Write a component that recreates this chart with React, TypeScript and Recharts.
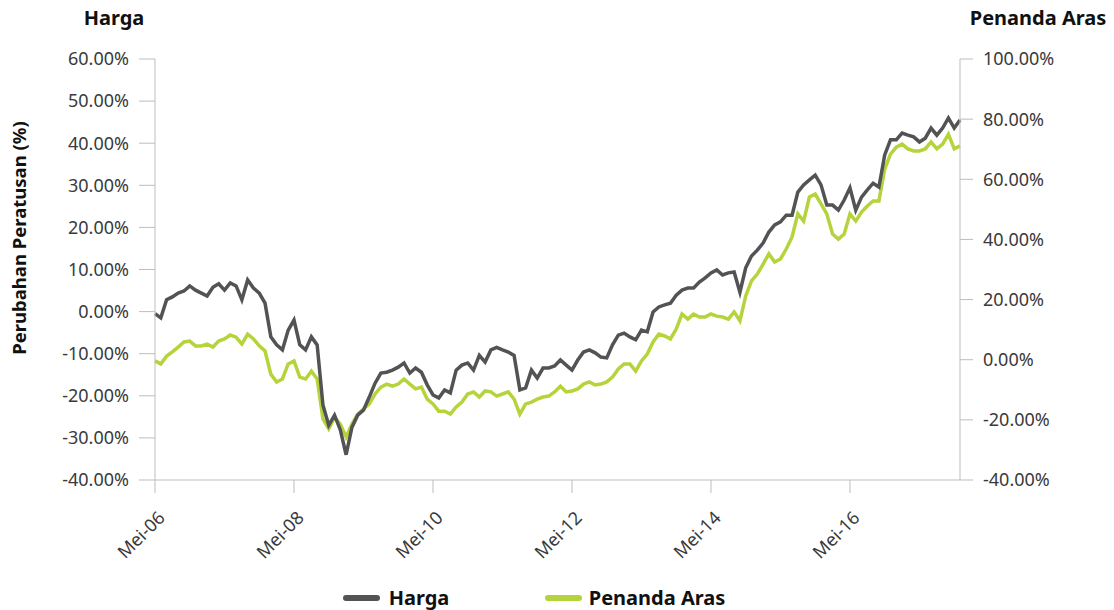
import React from 'react';
import { LineChart, Line, XAxis, YAxis } from 'recharts';

// Month index 0 = Mei-06 (May 2006), one value per month
const hargaValues = [
  -0.5, -1.5, 2.8, 3.5, 4.4, 4.9, 6.1, 5.1, 4.4, 3.7,
  5.8, 6.6, 5.1, 6.8, 6.1, 2.8, 7.5, 5.6, 4.4, 2.0,
  -6.0, -7.9, -9.1, -4.4, -2.0, -7.9, -9.1, -6.0, -7.9, -22.2,
  -27.0, -24.6, -28.1, -34.0, -27.5, -24.6, -23.4, -20.3, -17.0, -14.6,
  -14.4, -13.9, -13.2, -12.2, -14.6, -13.4, -14.4, -17.4, -19.8, -20.5,
  -18.6, -19.3, -13.9, -12.7, -12.2, -13.9, -10.4, -12.0, -9.1, -8.5,
  -9.1, -9.6, -10.4, -18.6, -18.1, -13.9, -15.8, -13.4, -13.4, -12.9,
  -11.5, -12.7, -13.9, -11.5, -9.6, -9.1, -9.8, -10.8, -11.0, -7.9,
  -5.6, -5.1, -6.0, -6.7, -4.4, -4.8, -0.1, 1.1, 1.6, 2.0,
  3.9, 5.1, 5.6, 5.6, 7.0, 8.0, 9.2, 9.9, 8.7, 9.2,
  9.4, 4.6, 10.4, 13.2, 14.6, 16.3, 18.9, 20.6, 21.3, 22.9,
  22.9, 28.4, 30.1, 31.3, 32.4, 30.1, 25.3, 25.3, 24.1, 26.5,
  29.4, 24.1, 27.2, 28.9, 30.5, 29.6, 37.2, 40.8, 40.8, 42.4,
  41.9, 41.5, 40.3, 41.2, 43.6, 41.9, 43.6, 46.0, 43.6, 45.5,
];

const penandaValues = [
  -0.4, -1.4, 1.2, 2.6, 4.2, 5.9, 6.2, 4.6, 4.6, 5.2,
  4.2, 6.2, 6.9, 8.2, 7.5, 5.2, 8.5, 6.9, 4.6, 2.9,
  -4.8, -7.4, -6.4, -1.4, -0.4, -5.8, -6.4, -3.8, -6.4, -19.7,
  -23.0, -19.1, -21.4, -25.7, -21.4, -18.1, -16.4, -14.7, -11.4, -9.1,
  -8.1, -8.8, -8.1, -6.4, -8.1, -9.7, -9.1, -13.1, -14.7, -17.1,
  -17.1, -18.1, -15.7, -14.1, -11.4, -10.7, -12.4, -10.4, -10.7, -12.1,
  -11.4, -10.7, -13.1, -18.1, -14.7, -14.1, -13.1, -12.4, -12.1, -10.7,
  -8.8, -10.7, -10.4, -9.7, -8.1, -7.4, -8.4, -8.1, -7.4, -5.8,
  -3.1, -1.4, -1.4, -3.8, -0.4, 1.9, 5.9, 8.5, 7.9, 6.9,
  10.2, 15.2, 13.5, 15.2, 14.2, 14.2, 15.2, 14.5, 14.2, 13.5,
  15.9, 12.9, 21.2, 26.2, 28.5, 31.8, 35.2, 32.5, 33.5, 36.8,
  40.8, 48.5, 46.1, 54.1, 55.1, 51.8, 48.5, 41.8, 40.1, 41.8,
  48.5, 46.1, 49.1, 51.1, 52.8, 52.8, 63.4, 68.4, 70.7, 71.7,
  70.1, 69.4, 69.4, 70.1, 72.4, 70.1, 71.7, 75.0, 70.1, 71.1,
];

const xTickValues = [0, 24, 48, 72, 96, 120];
const xTickLabels = ['Mei-06', 'Mei-08', 'Mei-10', 'Mei-12', 'Mei-14', 'Mei-16'];
const leftTicks = [-40, -30, -20, -10, 0, 10, 20, 30, 40, 50, 60];
const rightTicks = [-40, -20, 0, 20, 40, 60, 80, 100];

const data = hargaValues.map((v, i) => ({ m: i, harga: v, penanda: penandaValues[i] }));

const GRAY = '#535355';
const GREEN = '#B5D33A';
const AXIS = '#BDBDBD';
const FONT = '"Noto Sans", "Open Sans", sans-serif';
const TICK_COLOR = '#3a3a3a';

const fmt = (v: number) => `${v.toFixed(2)}%`;

const XTick = (props: any) => {
  const { x, y, payload } = props;
  const idx = xTickValues.indexOf(payload.value);
  const ax = x + 6;
  const ay = y + 19;
  return (
    <text
      x={ax}
      y={ay}
      textAnchor="end"
      dominantBaseline="central"
      transform={`rotate(-45, ${ax}, ${ay})`}
      fill={TICK_COLOR}
      fontSize={18}
      fontFamily={FONT}
    >
      {idx >= 0 ? xTickLabels[idx] : ''}
    </text>
  );
};

const center = (x: number, y: number): React.CSSProperties => ({
  position: 'absolute',
  left: x,
  top: y,
  transform: 'translate(-50%, -50%)',
  whiteSpace: 'nowrap',
  lineHeight: 1,
});

export default function App() {
  return (
    <div style={{ position: 'absolute', left: 0, top: 0, width: 1114, height: 610, background: '#fff', fontFamily: FONT }}>
      <LineChart width={1114} height={610} data={data} margin={{ top: 59, right: 0, left: 0, bottom: 70 }}>
        <XAxis
          dataKey="m"
          type="number"
          domain={[0, 139]}
          ticks={xTickValues}
          interval={0}
          height={60}
          stroke={AXIS}
          tickSize={13}
          tick={<XTick />}
        />
        <YAxis
          yAxisId="left"
          orientation="left"
          width={155}
          domain={[-40, 60]}
          ticks={leftTicks}
          interval={0}
          tickFormatter={fmt}
          stroke={AXIS}
          tickSize={16}
          tickMargin={10}
          tick={{ fill: TICK_COLOR, fontSize: 18, fontFamily: FONT }}
        />
        <YAxis
          yAxisId="right"
          orientation="right"
          width={154}
          domain={[-40, 100]}
          ticks={rightTicks}
          interval={0}
          tickFormatter={fmt}
          stroke={AXIS}
          tickSize={13}
          tickMargin={10}
          tick={{ fill: TICK_COLOR, fontSize: 18, fontFamily: FONT }}
        />
        <Line
          yAxisId="right"
          type="linear"
          dataKey="penanda"
          stroke={GREEN}
          strokeWidth={3.5}
          dot={false}
          isAnimationActive={false}
        />
        <Line
          yAxisId="left"
          type="linear"
          dataKey="harga"
          stroke={GRAY}
          strokeWidth={3.5}
          dot={false}
          isAnimationActive={false}
        />
      </LineChart>

      <div style={{ ...center(114, 18), fontWeight: 700, fontSize: 20, color: '#111' }}>Harga</div>
      <div style={{ ...center(1038, 18), fontWeight: 700, fontSize: 20, color: '#111' }}>Penanda Aras</div>
      <div style={{ ...center(19, 238), transform: 'translate(-50%, -50%) rotate(-90deg)', fontWeight: 700, fontSize: 18.5, color: '#111' }}>
        Perubahan Peratusan (%)
      </div>

      <div style={{ position: 'absolute', left: 343, top: 595, width: 37, height: 6, borderRadius: 3, background: GRAY }} />
      <div style={{ ...center(419, 598), fontWeight: 700, fontSize: 20, color: '#111' }}>Harga</div>
      <div style={{ position: 'absolute', left: 545, top: 595, width: 37, height: 6, borderRadius: 3, background: GREEN }} />
      <div style={{ ...center(657, 598), fontWeight: 700, fontSize: 20, color: '#111' }}>Penanda Aras</div>
    </div>
  );
}
